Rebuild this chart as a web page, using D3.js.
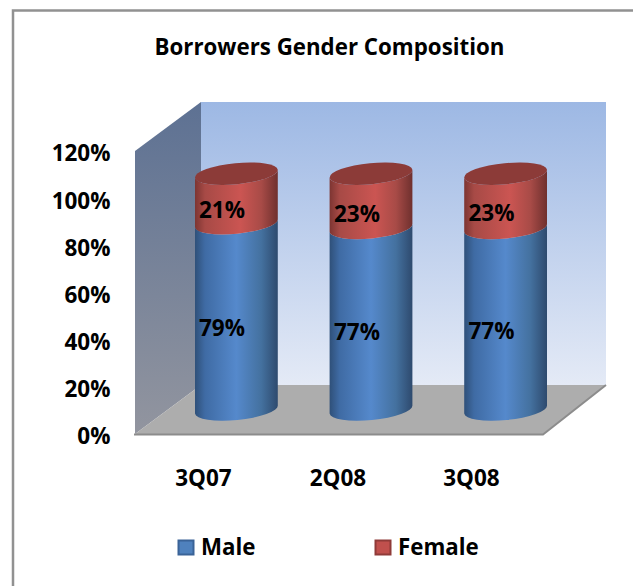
<!DOCTYPE html>
<html><head><meta charset="utf-8">
<script src="https://cdn.jsdelivr.net/npm/d3@7"></script>
<style>html,body{margin:0;padding:0;background:#fff}svg{display:block}text{font-family:"Open Sans","Noto Sans",sans-serif;font-weight:700;fill:#000}</style>
</head><body><div id="c"></div>
<script>
const categories=["3Q07","2Q08","3Q08"];
const male=[79,77,77];
const female=[21,23,23];
const seriesNames=["Male","Female"];
const yTicks=[0,20,40,60,80,100,120];
const title="Borrowers Gender Composition";
const W=633,H=586;
const svg=d3.select("#c").append("svg").attr("width",W).attr("height",H);
const defs=svg.append("defs");
function grad(id,stops,x2,y2){const g=defs.append("linearGradient").attr("id",id).attr("x1",0).attr("y1",0).attr("x2",x2).attr("y2",y2);
 stops.forEach(s=>g.append("stop").attr("offset",s[0]).attr("stop-color",s[1]));}
grad("wall",[[0,"#9db8e4"],[1,"#e4eaf6"]],0,1);
grad("side",[[0,"#5d7193"],[1,"#92959f"]],0,1);
grad("blue",[[0,"#2f5079"],[.12,"#3f6ba4"],[.5,"#5589cc"],[.8,"#44719f"],[1,"#2e4a6e"]],1,0);
grad("red",[[0,"#7d3532"],[.12,"#a74a46"],[.55,"#cb5552"],[.8,"#a84b47"],[1,"#6f302e"]],1,0);

const yFront=d3.scaleLinear().domain([0,120]).range([434,151]);
const yBack=d3.scaleLinear().domain([0,120]).range([385,102]);
const yBase=d3.scaleLinear().domain([0,120]).range([409.5,126.5]);
const x=d3.scaleBand().domain(categories).range([195,547]).paddingInner(0.385);
const xFront=135,xBack=201,xRight=606,xFloorFront=543;

svg.append("path").attr("d",`M13,${H} L13,10.5 L${W},10.5`).attr("fill","none").attr("stroke","#919191").attr("stroke-width",2.5);

svg.append("polygon").attr("fill","url(#wall)")
 .attr("points",[[xBack,yBack(120)],[xRight,yBack(120)],[xRight,yBack(0)],[xBack,yBack(0)]].join(" "));
svg.append("polygon").attr("fill","url(#side)")
 .attr("points",[[xFront,yFront(120)],[xBack,yBack(120)],[xBack,yBack(0)],[xFront,yFront(0)]].join(" "));
svg.append("polygon").attr("fill","#adadad")
 .attr("points",[[xFront,yFront(0)],[xBack,yBack(0)],[xRight,yBack(0)],[xFloorFront,yFront(0)]].join(" "));
svg.append("path").attr("d",`M${xFront-1},${yFront(0)+.5} L${xFloorFront},${yFront(0)+.5} L${xRight},${yBack(0)}`).attr("fill","none").attr("stroke","#8c8c8c").attr("stroke-width",2);

const rx=x.bandwidth()/2,ry=10.5,tilt=-4,rot=-5.5;
function band(cx,v0,v1){
 const yb=yBase(v0),yt=yBase(v1);
 return `M${cx-rx},${yt-tilt} L${cx-rx},${yb-tilt} A${rx},${ry} ${rot} 0 0 ${cx+rx},${yb+tilt} L${cx+rx},${yt+tilt} A${rx},${ry} ${rot} 0 1 ${cx-rx},${yt-tilt} Z`;
}
function capPath(cx,v){
 const yt=yBase(v);
 return `M${cx-rx},${yt-tilt} A${rx},${ry} ${rot} 0 1 ${cx+rx},${yt+tilt} A${rx},${ry} ${rot} 0 1 ${cx-rx},${yt-tilt} Z`;
}
categories.forEach((c,i)=>{
 const cx=x(c)+x.bandwidth()/2;
 svg.append("path").attr("d",band(cx,0,male[i])).attr("fill","url(#blue)");
 svg.append("path").attr("d",band(cx,male[i],male[i]+female[i])).attr("fill","url(#red)");
 svg.append("path").attr("d",capPath(cx,male[i]+female[i])).attr("fill","#8c3b38");
});

const labelX=[222,357,491.5];
const yMale=[328,332,331],yFemale=[210,214,213];
const axisX=[203.5,338,471.5];
categories.forEach((c,i)=>{
 svg.append("text").attr("x",labelX[i]).attr("y",yMale[i]).attr("dy",".35em").attr("text-anchor","middle").attr("font-size",22.5).text(male[i]+"%");
 svg.append("text").attr("x",labelX[i]).attr("y",yFemale[i]).attr("dy",".35em").attr("text-anchor","middle").attr("font-size",22.5).text(female[i]+"%");
 svg.append("text").attr("x",axisX[i]).attr("y",478).attr("dy",".35em").attr("text-anchor","middle").attr("font-size",22.5).text(c);
});
yTicks.forEach(t=>{
 svg.append("text").attr("x",110.5).attr("y",yFront(t)+2.5).attr("dy",".35em").attr("text-anchor","end").attr("font-size",22.5).text(t+"%");
});
svg.append("text").attr("x",329.5).attr("y",47).attr("dy",".35em").attr("text-anchor","middle").attr("font-size",22.3).text(title);

const legX=[178,375],col=["#4f81bd","#c0504d"],edge=["#3a6397","#8f3b39"];
seriesNames.forEach((n,i)=>{
 svg.append("rect").attr("x",legX[i]+.5).attr("y",540.5).attr("width",15).attr("height",14).attr("fill",col[i]).attr("stroke",edge[i]).attr("stroke-width",2);
 svg.append("text").attr("x",legX[i]+23).attr("y",547).attr("dy",".35em").attr("font-size",22.3).text(n);
});
</script></body></html>
